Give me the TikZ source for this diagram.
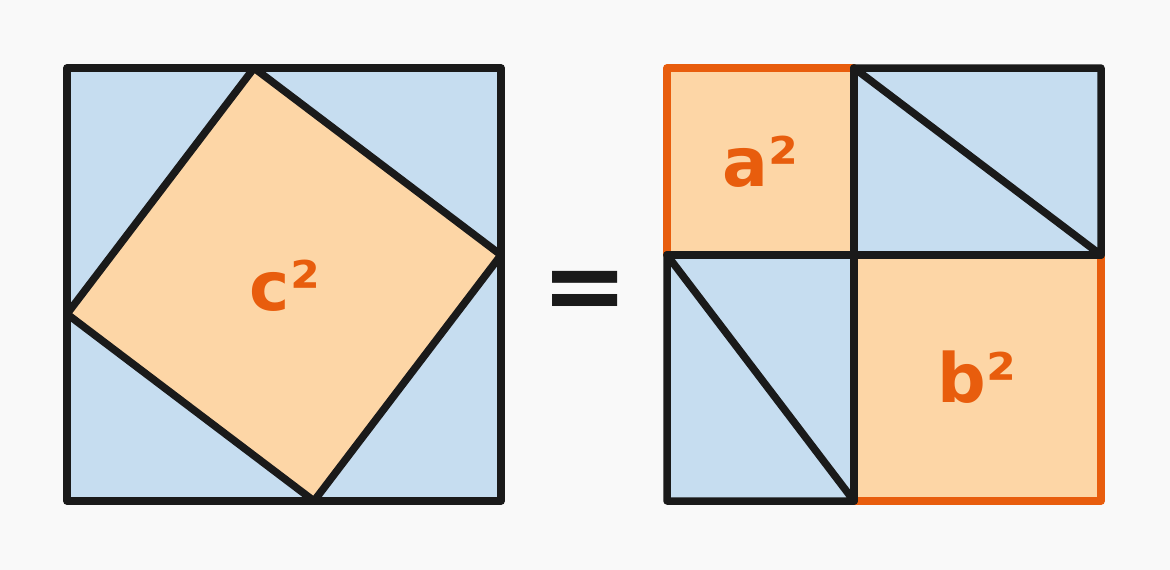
\documentclass[tikz,border=0pt]{standalone}
\usepackage{fontspec}
\setmainfont{DejaVu Sans}
\usetikzlibrary{calc}
\definecolor{bgcol}{HTML}{F9F9F9}
\definecolor{skyfill}{HTML}{C6DDF0}
\definecolor{sandfill}{HTML}{FDD6A6}
\definecolor{rust}{HTML}{E85D0D}
\definecolor{ink}{HTML}{1A1A1A}
\tikzset{edge/.style={ink, line width=7.5pt, line join=round, line cap=round},
  rim/.style={rust, line width=7.5pt, line join=round, line cap=round},
  lab/.style={rust, font=\bfseries\fontsize{68}{68}\selectfont}}

\begin{document}
\begin{tikzpicture}[x=1pt,y=-1pt]
	\fill[bgcol] (0,0) rectangle (1170,570);
	\useasboundingbox (0,0) rectangle (1170,570);
	% left square, c^2
	\fill[skyfill] (67,68) rectangle (501,501);
	\fill[sandfill] (254,68)--(501,255)--(314,501)--(67,314)--cycle;
	\draw[edge] (254,68)--(501,255)--(314,501)--(67,314)--cycle;
	\draw[edge] (67,68) rectangle (501,501);
	\node[lab] (c2) at (285,286) {c²};
	% equals
	\node[ink, font=\bfseries\fontsize{104}{104}\selectfont] (eq) at (585,296) {=};
	% right square, a^2 + b^2
	\fill[skyfill] (667,68) rectangle (1101,501);
	\fill[sandfill] (667,68) rectangle (854,255);
	\fill[sandfill] (854,255) rectangle (1101,501);
	\draw[rim] (854,255)--(667,255)--(667,68)--(854,68);
	\draw[rim] (854,255)--(1101,255)--(1101,501)--(854,501);
	\draw[edge] (854,68)--(1101,68)--(1101,255)--cycle;
	\draw[edge] (667,255)--(854,501)--(667,501)--cycle;
	\draw[edge] (667,255)--(1101,255);
	\draw[edge] (854,68)--(854,501);
	\node[lab] (a2) at (760,162) {a²};
	\node[lab] (b2) at (977,377) {b²};
\end{tikzpicture}
\end{document}
